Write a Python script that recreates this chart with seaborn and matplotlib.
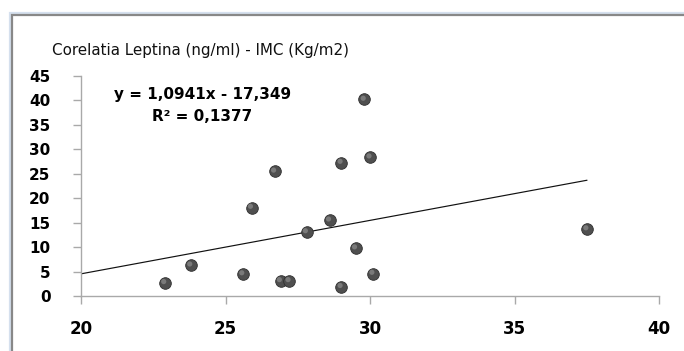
import numpy as np
import pandas as pd
import seaborn as sns
import matplotlib
matplotlib.use("Agg")
import matplotlib.pyplot as plt
from matplotlib.patches import Rectangle

# ---- data ----
imc = [22.9, 23.8, 25.6, 25.9, 26.7, 26.9, 27.2, 27.8, 28.6, 29.0, 29.0, 29.5, 29.8, 30.0, 30.1, 37.5]
leptina = [2.7, 6.3, 4.5, 18.1, 25.5, 3.1, 3.1, 13.1, 15.5, 27.3, 1.9, 9.8, 40.2, 28.4, 4.6, 13.7]
slope = 1.0941
intercept = -17.349
r2 = 0.1377
title = "Corelatia Leptina (ng/ml) - IMC (Kg/m2)"
x_ticks = [20, 25, 30, 35, 40]
y_ticks = [0, 5, 10, 15, 20, 25, 30, 35, 40, 45]

df = pd.DataFrame({"IMC": imc, "Leptina": leptina})

sns.set_theme(style="white")
plt.rcParams['font.family'] = ['DejaVu Sans']

W, H = 684, 351
fig = plt.figure(figsize=(W / 100, H / 100), dpi=100)
fig.patch.set_facecolor("white")
ax = fig.add_axes([81 / W, 1 - 296 / H, (659.3 - 81) / W, (296 - 76) / H])

# trendline (Excel-style, from axis start to max x)
xl = np.array([x_ticks[0], max(imc)])
ax.plot(xl, slope * xl + intercept, color="#111111", lw=0.85, zorder=2)

sns.scatterplot(data=df, x="IMC", y="Leptina", ax=ax, s=70, color="#4f4f4f",
                edgecolor="#2e2e2e", linewidth=0.6, zorder=3, legend=False)
# subtle highlight for the sphere look
ax.scatter(df["IMC"] - 0.04, df["Leptina"] + 0.25, s=14, color="#7a7a7a",
           edgecolors="none", zorder=4)

ax.set_xlim(x_ticks[0], x_ticks[-1])
ax.set_ylim(y_ticks[0], y_ticks[-1])
ax.set_xticks(x_ticks)
ax.set_yticks(y_ticks)
ax.set_xlabel("")
ax.set_ylabel("")
for s in ["top", "right"]:
    ax.spines[s].set_visible(False)
for s in ["left", "bottom"]:
    ax.spines[s].set_color("#a9a9a9")
    ax.spines[s].set_linewidth(1.0)
ax.tick_params(axis="both", which="major", direction="out", length=6, width=1.0,
               color="#a9a9a9", labelcolor="black")
ax.tick_params(axis="x", pad=11, labelsize=12)
ax.tick_params(axis="y", pad=16, labelsize=11)
for lab in ax.get_xticklabels() + ax.get_yticklabels():
    lab.set_fontweight("bold")
ax.yaxis.set_tick_params(left=True)
ax.xaxis.set_tick_params(bottom=True)

# equation text
ax.text(24.2, 41.2, "y = 1,0941x - 17,349", ha="center", va="center",
        fontsize=11, fontweight="bold", color="black")
ax.text(24.2, 36.7, "R² = 0,1377", ha="center", va="center",
        fontsize=11, fontweight="bold", color="black")

# title
fig.text(52 / W, 1 - 50 / H, title, ha="left", va="center", fontsize=10.9, color="#111111")

# chart frame (light blue outer + grey inner)
fig.add_artist(Rectangle((10 / W, -0.2), 1.2, 1 - 13 / H + 0.2, transform=fig.transFigure,
                         fill=False, edgecolor="#d5e0ee", lw=1.6))
fig.add_artist(Rectangle((12.3 / W, -0.2), 1.2, 1 - 15.3 / H + 0.2, transform=fig.transFigure,
                         fill=False, edgecolor="#888888", lw=1.6))

fig.savefig("out.png", dpi=100, facecolor="white")
